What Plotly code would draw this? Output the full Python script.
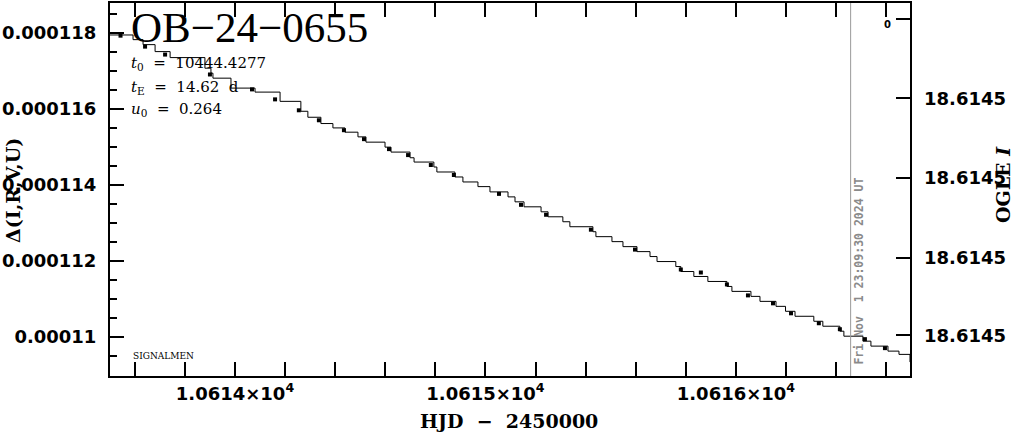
import plotly.graph_objects as go

# ---- data ----
step_hjd = [10613.500, 10613.593, 10613.633, 10613.681, 10613.741, 10613.880, 10613.904,
            10613.912, 10613.984, 10614.080, 10614.180, 10614.263, 10614.291, 10614.343,
            10614.391, 10614.439, 10614.491, 10614.523, 10614.599, 10614.623, 10614.699,
            10614.715, 10614.794, 10614.806, 10614.878, 10614.910, 10614.970, 10615.018,
            10615.090, 10615.118, 10615.154, 10615.222, 10615.250, 10615.309, 10615.337,
            10615.429, 10615.441, 10615.505, 10615.549, 10615.605, 10615.657, 10615.685,
            10615.760, 10615.780, 10615.832, 10615.888, 10615.964, 10615.984, 10616.060,
            10616.096, 10616.160, 10616.198, 10616.236, 10616.311, 10616.347, 10616.415,
            10616.431, 10616.507, 10616.539, 10616.607, 10616.651, 10616.695]
step_delta_e6 = [117.940, 117.817, 117.686, 117.503, 117.346, 117.067, 116.936,
                 116.805, 116.544, 116.439, 116.196, 115.935, 115.778, 115.613,
                 115.498, 115.386, 115.263, 115.124, 114.993, 114.863, 114.714,
                 114.601, 114.471, 114.340, 114.209, 114.078, 113.956, 113.817,
                 113.686, 113.556, 113.425, 113.294, 113.163, 113.033, 112.902,
                 112.771, 112.641, 112.510, 112.379, 112.248, 112.118, 111.987,
                 111.856, 111.725, 111.595, 111.464, 111.333, 111.203, 111.072,
                 110.941, 110.810, 110.680, 110.549, 110.418, 110.288, 110.157,
                 110.026, 109.895, 109.765, 109.634, 109.548, 109.346]

point_hjd = [10613.543, 10613.641, 10613.721, 10613.900, 10614.068, 10614.160, 10614.255,
             10614.335, 10614.435, 10614.515, 10614.615, 10614.691, 10614.782, 10614.874,
             10615.054, 10615.142, 10615.242, 10615.421, 10615.597, 10615.780, 10615.860,
             10615.964, 10616.048, 10616.148, 10616.220, 10616.331, 10616.415, 10616.515,
             10616.595]
point_delta_e6 = [117.922, 117.634, 117.425, 116.902, 116.510, 116.248, 115.961,
                  115.699, 115.438, 115.203, 114.941, 114.784, 114.523, 114.261,
                  113.765, 113.477, 113.216, 112.824, 112.301, 111.778, 111.699,
                  111.386, 111.098, 110.889, 110.627, 110.366, 110.209, 109.948,
                  109.712]

x_tick_vals = [10614, 10615, 10616]
x_tick_text = ["1.0614×10<sup>4</sup>", "1.0615×10<sup>4</sup>", "1.0616×10<sup>4</sup>"]
y_tick_vals = [0.000110, 0.000112, 0.000114, 0.000116, 0.000118]
y_tick_text = ["0.00011", "0.000112", "0.000114", "0.000116", "0.000118"]
mag_tick_pos = [0.109, 0.317, 0.531, 0.744, 0.957]
mag_tick_text = ["18.6145", "18.6145", "18.6145", "18.6145", " "]
now_hjd = 10616.458
now_label = "Fri Nov  1 23:09:30 2024 UT"
event_name = "OB−24−0655"
params = ["<i>t</i><sub>0</sub>  =  10444.4277", "<i>t</i><sub>E</sub>  =  14.62  d", "<i>u</i><sub>0</sub>  =  0.264"]

step_delta = [v * 1e-6 for v in step_delta_e6]
point_delta = [v * 1e-6 for v in point_delta_e6]

fig = go.Figure()
fig.add_trace(go.Scatter(x=step_hjd, y=step_delta, mode="lines", line=dict(color="black", width=1, shape="hv"),
                         showlegend=False, hoverinfo="skip"))
fig.add_trace(go.Scatter(x=point_hjd, y=point_delta, mode="markers",
                         marker=dict(symbol="square", size=4, color="black", line=dict(width=0)),
                         showlegend=False, hoverinfo="skip"))
fig.add_trace(go.Scatter(x=[now_hjd, now_hjd], y=[0, 1], yaxis="y2", mode="lines",
                         line=dict(color="#9a9a9a", width=1), showlegend=False, hoverinfo="skip"))

tickfont = dict(family="DejaVu Sans", size=18, color="black", weight="bold")
fig.update_layout(
    width=1014, height=434,
    margin=dict(l=110, r=104, t=1, b=58),
    paper_bgcolor="white", plot_bgcolor="white",
    xaxis=dict(range=[10613.501, 10616.695], tickmode="array", tickvals=x_tick_vals, ticktext=x_tick_text,
               ticks="inside", ticklen=14, tickwidth=1.5, tickcolor="black",
               minor=dict(tickmode="linear", tick0=10614, dtick=0.2, ticks="inside", ticklen=7,
                          tickwidth=1.5, tickcolor="black", showgrid=False),
               showline=True, linecolor="black", linewidth=2, mirror="allticks",
               showgrid=False, zeroline=False, tickfont=tickfont),
    yaxis=dict(range=[0.00010898, 0.00011878], tickmode="array", tickvals=y_tick_vals, ticktext=y_tick_text,
               ticks="inside", ticklen=14, tickwidth=1.5, tickcolor="black", ticklabelstandoff=8,
               minor=dict(tickmode="linear", tick0=0.00011, dtick=5e-7, ticks="inside", ticklen=7,
                          tickwidth=1.5, tickcolor="black", showgrid=False),
               showline=True, linecolor="black", linewidth=2, mirror=True,
               showgrid=False, zeroline=False, tickfont=tickfont),
    yaxis2=dict(range=[0, 1], overlaying="y", side="right", tickmode="array", tickvals=mag_tick_pos,
                ticktext=mag_tick_text, ticks="inside", ticklen=14, tickwidth=1.5, tickcolor="black",
                ticklabelstandoff=13,
                showline=False, showgrid=False, zeroline=False, tickfont=tickfont),
)

def px(xp):
    return (xp - 110) / 800.0

def py(yp):
    return (376 - yp) / 375.0

ann = []
ann.append(dict(text=event_name, x=px(129), y=py(26), xanchor="left", yanchor="middle",
                font=dict(family="Liberation Serif", size=43, color="black")))
for i, t in enumerate(params):
    ann.append(dict(text=t, x=px(129), y=py([62, 86, 108][i]), xanchor="left", yanchor="middle",
                    font=dict(family="DejaVu Serif", size=15, color="black")))
ann.append(dict(text="SIGNALMEN", x=px(131), y=py(356), xanchor="left", yanchor="middle",
                font=dict(family="DejaVu Serif", size=9, color="black")))
ann.append(dict(text="0", x=px(887), y=py(23), xanchor="center", yanchor="middle",
                font=dict(family="DejaVu Sans", size=10, color="black", weight="bold")))
ann.append(dict(text="HJD  −  2450000", x=px(509), y=py(421), xanchor="center", yanchor="middle",
                font=dict(family="DejaVu Serif", size=19, color="black", weight="bold")))
ann.append(dict(text="Δ(I,R,V,U)", x=px(13), y=py(190), xanchor="center", yanchor="middle", textangle=-90,
                font=dict(family="DejaVu Serif", size=19, color="black", weight="bold")))
ann.append(dict(text="OGLE <i>I</i>", x=px(1003), y=py(184), xanchor="center", yanchor="middle", textangle=-90,
                font=dict(family="DejaVu Serif", size=19, color="black", weight="bold")))
ann.append(dict(text=now_label, x=px(859), y=py(271), xanchor="center", yanchor="middle", textangle=-90,
                font=dict(family="DejaVu Sans Mono", size=11.5, color="#8a8a8a", weight="bold")))
for a in ann:
    a.update(xref="paper", yref="paper", showarrow=False)
fig.update_layout(annotations=ann)

fig.write_html("out.html", config={"displayModeBar": False},
               post_script="document.body.style.margin='0';document.body.style.overflow='hidden';")
